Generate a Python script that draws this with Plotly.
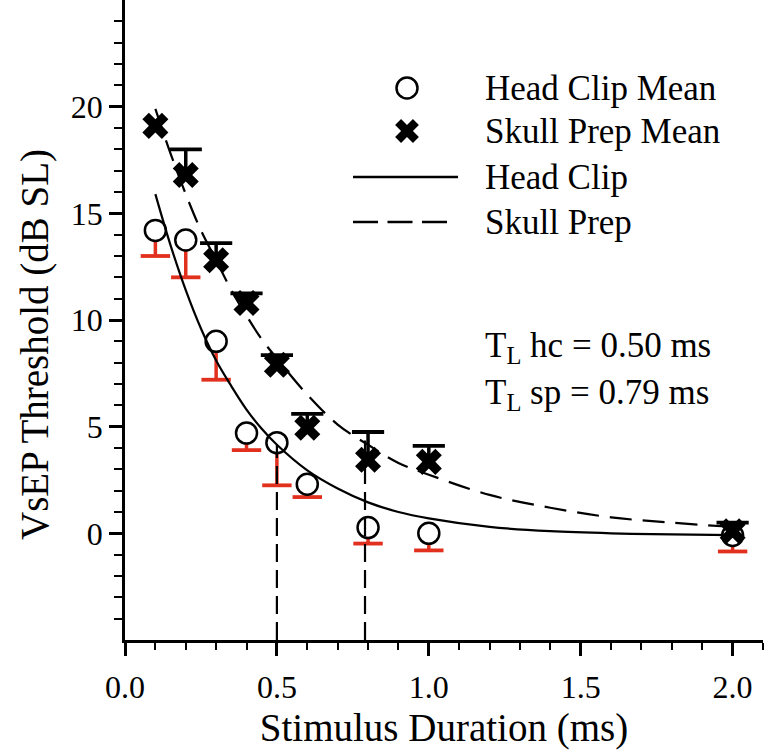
import plotly.graph_objects as go

# ---- data ----
duration = [0.1, 0.2, 0.3, 0.4, 0.5, 0.6, 0.8, 1.0, 2.0]
head_clip_mean = [14.2, 13.75, 9.0, 4.7, 4.25, 2.3, 0.27, 0.0, -0.1]
head_clip_err_minus = [1.2, 1.75, 1.8, 0.8, 2.0, 0.6, 0.75, 0.8, 0.75]
skull_prep_mean = [19.1, 16.8, 12.8, 10.8, 7.9, 4.95, 3.45, 3.35, 0.1]
skull_prep_err_plus = [None, 1.2, 0.8, 0.45, 0.45, 0.65, 1.3, 0.75, 0.4]

fit_x = [0.1, 0.15, 0.2, 0.25, 0.3, 0.35, 0.4, 0.45, 0.5, 0.6, 0.7, 0.8, 0.9,
         1.0, 1.2, 1.4, 1.6, 1.8, 2.0]
head_clip_fit = [15.9, 13.5, 11.4, 9.6, 8.1, 6.9, 5.8, 4.9, 4.15, 2.95, 2.1, 1.45,
                 1.0, 0.7, 0.3, 0.1, 0.0, -0.05, -0.08]
skull_prep_fit = [19.9, 17.8, 15.9, 14.2, 12.8, 11.4, 10.2, 9.1, 8.2, 6.5, 5.1,
                  4.15, 3.3, 2.75, 1.8, 1.2, 0.75, 0.5, 0.3]

tl_values = [0.50, 0.79]
tl_tops = [4.15, 4.35]
tl_labels = ["T<sub>L</sub> hc = 0.50 ms", "T<sub>L</sub> sp = 0.79 ms"]

legend_labels = ["Head Clip Mean", "Skull Prep Mean", "Head Clip", "Skull Prep"]

x_title = "Stimulus Duration (ms)"
y_title = "VsEP Threshold (dB SL)"

x_range = [0, 2.1]
y_range = [-5, 25]
y_major = [0, 5, 10, 15, 20]
y_minor = [-4, -3, -2, -1, 1, 2, 3, 4, 6, 7, 8, 9, 11, 12, 13, 14, 16, 17, 18, 19,
           21, 22, 23, 24]

FONT = "Liberation Serif, Times New Roman, serif"
RED = "#e2301f"
CURVE_DASH = "22px,11px"

# error-bar end points (derived from means and errors)
hc_cap_y = [m - e for m, e in zip(head_clip_mean, head_clip_err_minus)]
sp_x = [x for x, e in zip(duration, skull_prep_err_plus) if e is not None]
sp_err = [e for e in skull_prep_err_plus if e is not None]
sp_cap_y = [m + e for m, e in zip(skull_prep_mean, skull_prep_err_plus) if e is not None]

fig = go.Figure()

# red downward error bars of head clip (stem + cap)
fig.add_trace(go.Scatter(
    x=duration, y=hc_cap_y, mode="markers",
    marker=dict(symbol="line-ew", size=21, line=dict(color=RED, width=3.8)),
    error_y=dict(type="data", symmetric=False, array=head_clip_err_minus,
                 arrayminus=[0] * len(duration), color=RED, thickness=3.5, width=0),
    showlegend=False, hoverinfo="skip"))

# black upward error bars of skull prep (stem + cap)
fig.add_trace(go.Scatter(
    x=sp_x, y=sp_cap_y, mode="markers",
    marker=dict(symbol="line-ew", size=23, line=dict(color="black", width=3.8)),
    error_y=dict(type="data", symmetric=False, array=[0] * len(sp_x),
                 arrayminus=sp_err, color="black", thickness=3.5, width=0),
    showlegend=False, hoverinfo="skip"))

# means
fig.add_trace(go.Scatter(
    x=duration, y=head_clip_mean, mode="markers", name="Head Clip Mean",
    marker=dict(symbol="circle", size=21, color="white",
                line=dict(color="black", width=2.5)),
    showlegend=False))
fig.add_trace(go.Scatter(
    x=duration, y=skull_prep_mean, mode="markers", name="Skull Prep Mean",
    marker=dict(symbol="x", size=23, color="black", line=dict(width=0)),
    showlegend=False))

# fitted curves
fig.add_trace(go.Scatter(x=fit_x, y=head_clip_fit, mode="lines", line_shape="spline",
                         name="Head Clip",
                         line=dict(color="black", width=2.2), showlegend=False))
fig.add_trace(go.Scatter(x=fit_x, y=skull_prep_fit, mode="lines", line_shape="spline",
                         name="Skull Prep",
                         line=dict(color="black", width=2.2, dash=CURVE_DASH),
                         showlegend=False))

# vertical T_L markers
for xv, top in zip(tl_values, tl_tops):
    fig.add_trace(go.Scatter(x=[xv, xv], y=[y_range[0], top], mode="lines",
                             line=dict(color="black", width=2.2, dash="18px,8px"),
                             showlegend=False, hoverinfo="skip"))

# ---- custom legend on an overlay pixel-like axis ----
lg_x_sym = 407
lg_x_line0, lg_x_line1 = 353, 458
lg_x_text = 483
lg_rows = [88, 131, 177, 222]

fig.add_trace(go.Scatter(x=[lg_x_sym], y=[lg_rows[0]], xaxis="x2", yaxis="y2",
                         mode="markers",
                         marker=dict(symbol="circle", size=21, color="white",
                                     line=dict(color="black", width=2.5)),
                         showlegend=False, hoverinfo="skip"))
fig.add_trace(go.Scatter(x=[lg_x_sym], y=[lg_rows[1]], xaxis="x2", yaxis="y2",
                         mode="markers",
                         marker=dict(symbol="x", size=21, color="black", line=dict(width=0)),
                         showlegend=False, hoverinfo="skip"))
fig.add_trace(go.Scatter(x=[lg_x_line0, lg_x_line1], y=[lg_rows[2]] * 2,
                         xaxis="x2", yaxis="y2", mode="lines",
                         line=dict(color="black", width=2.5),
                         showlegend=False, hoverinfo="skip"))
fig.add_trace(go.Scatter(x=[lg_x_line0, 447], y=[lg_rows[3]] * 2,
                         xaxis="x2", yaxis="y2", mode="lines",
                         line=dict(color="black", width=2.5, dash="25px,9.5px"),
                         showlegend=False, hoverinfo="skip"))

annotations = []
for label, yy in zip(legend_labels, lg_rows):
    annotations.append(dict(x=lg_x_text, y=yy, xref="x2", yref="y2", text=label,
                            showarrow=False, xanchor="left", yanchor="middle",
                            font=dict(family=FONT, size=35, color="black")))
for label, yy in zip(tl_labels, [347, 394]):
    annotations.append(dict(x=lg_x_text, y=yy, xref="x2", yref="y2", text=label,
                            showarrow=False, xanchor="left", yanchor="middle",
                            font=dict(family=FONT, size=35, color="black")))
# y-axis title placed as rotated text
annotations.append(dict(x=-0.141, y=0.461, xref="paper", yref="paper", text=y_title,
                        textangle=-90, showarrow=False, xanchor="center",
                        yanchor="middle",
                        font=dict(family=FONT, size=39, color="black")))

fig.update_layout(
    width=767, height=750,
    margin=dict(l=125, r=4, t=0, b=110),
    paper_bgcolor="white", plot_bgcolor="white",
    font=dict(family=FONT, color="black"),
    annotations=annotations,
    hovermode=False,
    xaxis=dict(range=x_range, showgrid=False, zeroline=False,
               showline=True, linecolor="black", linewidth=2.5,
               ticks="outside", ticklen=13, tickwidth=2.5, tickcolor="black",
               tickvals=[0, 0.5, 1.0, 1.5, 2.0], tickformat=".1f",
               tickfont=dict(family=FONT, size=32, color="black"),
               ticklabelstandoff=4,
               minor=dict(dtick=0.1, tick0=0, ticks="outside", ticklen=7,
                          tickwidth=2, tickcolor="black", showgrid=False),
               title=dict(text=x_title, standoff=11,
                          font=dict(family=FONT, size=39, color="black"))),
    yaxis=dict(range=y_range, showgrid=False, zeroline=False,
               showline=True, linecolor="black", linewidth=2.5,
               ticks="outside", ticklen=13, tickwidth=2.5, tickcolor="black",
               tickvals=y_major,
               tickfont=dict(family=FONT, size=32, color="black"),
               ticklabelstandoff=0,
               minor=dict(tickvals=y_minor, ticks="outside", ticklen=8,
                          tickwidth=2, tickcolor="black", showgrid=False)),
    xaxis2=dict(range=[125, 763], overlaying="x", visible=False, anchor="y2"),
    yaxis2=dict(range=[640, 0], overlaying="y", visible=False, anchor="x2"),
)

fig.write_html("out.html", config={"displayModeBar": False},
               post_script="document.body.style.margin='0px';")
